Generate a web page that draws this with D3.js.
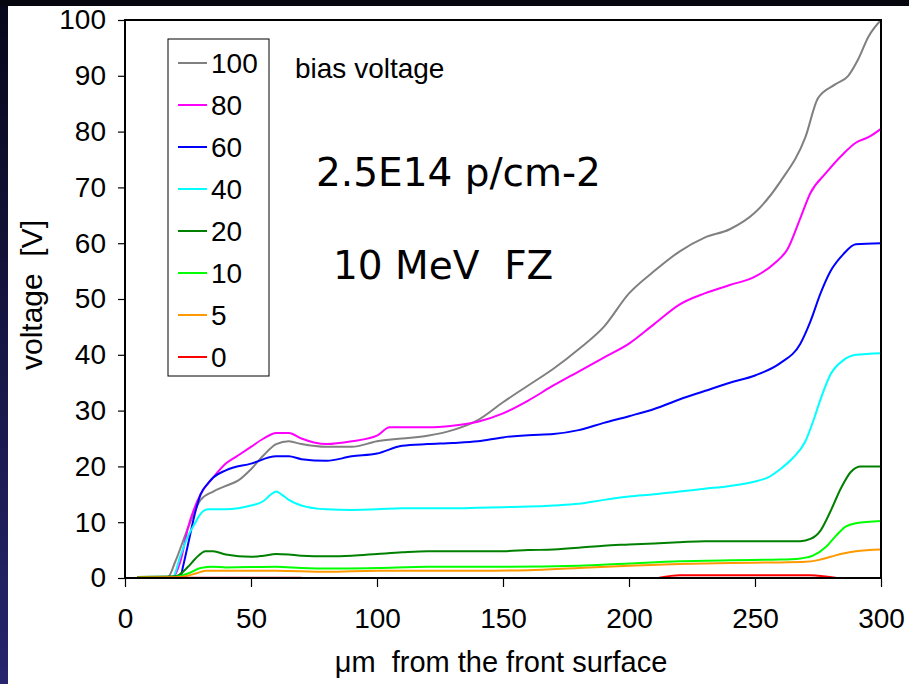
<!DOCTYPE html>
<html>
<head>
  <meta charset="utf-8">
  <script src="https://d3js.org/d3.v7.min.js"></script>
  <style>
    body { margin: 0; background: #fff; }
    svg text { font-family: Arial, "Liberation Sans", sans-serif; fill: #000; white-space: pre; }
    .note { font-family: "Comic Sans MS", "DejaVu Sans", sans-serif; }
  </style>
</head>
<body>
  <script type="text/javascript">
    // Potential profiles (depth in um, voltage in V) for each bias voltage
    var bias100 = [[5,0.2],[17,0.2],[20,3],[25,9],[30,14],[35,15.5],[40,16.5],[45,17.5],[50,19.5],[55,22],[60,24],[65,24.5],
                   [70,24],[80,23.5],[90,23.5],[100,24.5],[110,25],[120,25.5],[130,26.5],[140,28.3],[150,31.5],[160,34.5],
                   [170,37.5],[180,41],[190,45],[200,51],[210,55],[220,58.5],[230,61],[240,62.5],[250,65.5],[260,71],
                   [270,79],[275,86],[282,88.5],[287,90],[291,93],[295,97],[300,100]];
    var bias80 = [[5,0.2],[19,0.2],[22,3],[25,9],[30,15],[35,18],[40,20.5],[45,22],[50,23.5],[55,25],[60,26],[65,26],
                  [70,25],[75,24.3],[80,24],[90,24.5],[100,25.5],[105,27],[110,27],[120,27],[130,27.3],[140,28],[150,29.5],
                  [160,31.8],[170,34.5],[180,37],[190,39.5],[200,42],[210,45.5],[220,49],[230,51],[240,52.5],[250,54],
                  [258,56.5],[263,59],[268,64.5],[272,69],[278,72.5],[285,76],[290,78],[295,79],[300,80.5]];
    var bias60 = [[5,0.2],[22,0.2],[23,2],[25,6],[28,12],[30,15],[33,17],[35,18],[40,19.3],[50,20.5],[60,21.8],[65,21.8],
                  [70,21.3],[80,21],[90,21.8],[100,22.3],[110,23.7],[120,24],[130,24.2],[140,24.5],[150,25.2],[160,25.6],
                  [170,25.8],[180,26.5],[190,27.8],[200,29],[210,30.3],[220,32],[230,33.5],[240,35],[250,36.3],[260,38.5],
                  [268,42],[272,46],[276,51],[280,55],[285,58],[290,59.8],[300,60]];
    var bias40 = [[5,0.2],[19,0.2],[22,4],[25,7.5],[28,10],[30,11.5],[33,12.3],[40,12.3],[45,12.5],[50,13],[55,13.8],
                  [58,15],[60,15.5],[62,15],[65,14],[70,13],[80,12.3],[90,12.2],[100,12.3],[110,12.5],[120,12.5],[130,12.5],
                  [140,12.6],[150,12.7],[160,12.8],[170,13],[180,13.3],[190,14],[200,14.6],[210,15],[220,15.5],[230,16],
                  [240,16.5],[250,17.3],[255,18],[260,19.5],[265,21.5],[270,24.5],[273,28],[276,32],[280,36.5],[285,39],
                  [290,40],[300,40.3]];
    var bias20 = [[5,0.2],[20,0.3],[25,2],[28,3.5],[32,4.8],[35,4.8],[40,4.2],[50,3.8],[55,4],[60,4.3],[65,4.2],[70,4],
                  [80,3.9],[90,4],[100,4.3],[110,4.6],[120,4.8],[130,4.8],[140,4.8],[150,4.8],[160,5],[170,5.1],[180,5.4],
                  [190,5.8],[200,6],[210,6.2],[220,6.4],[230,6.6],[240,6.6],[250,6.6],[260,6.6],[268,6.6],[272,7],
                  [276,8.5],[280,12],[284,16],[288,19],[292,20],[300,20]];
    var bias10 = [[5,0.2],[20,0.2],[25,0.8],[30,1.8],[35,2],[40,1.9],[60,2],[70,1.8],[80,1.7],[100,1.8],[120,2],[150,2],
                  [180,2.2],[200,2.6],[220,3],[240,3.2],[260,3.3],[268,3.5],[273,4],[278,5.5],[282,7.5],[286,9.2],
                  [290,9.8],[300,10.2]];
    var bias5 = [[5,0.1],[22,0.2],[28,0.8],[32,1.3],[40,1.3],[60,1.3],[80,1.1],[100,1.3],[140,1.3],[160,1.4],[180,1.8],
                 [200,2.2],[220,2.5],[240,2.7],[260,2.8],[270,2.9],[275,3.2],[280,3.8],[285,4.4],[290,4.8],[300,5.1]];
    var bias0a = [[5,0.05],[70,0.05]];
    var bias0b = [[212,0.05],[220,0.5],[272,0.5],[282,0.05]];

    var legendLabels = ["100", "80", "60", "40", "20", "10", "5", "0"];
    var seriesColors = ["#808080", "#ff00ff", "#0000ff", "#00ffff", "#008000", "#00ff00", "#ff9900", "#ff0000"];
    var seriesData = [[bias100], [bias80], [bias60], [bias40], [bias20], [bias10], [bias5], [bias0a, bias0b]];

    var xTicks = [0, 50, 100, 150, 200, 250, 300];
    var yTicks = [0, 10, 20, 30, 40, 50, 60, 70, 80, 90, 100];

    var W = 909, H = 684;
    var plotLeft = 125, plotRight = 881, plotTop = 20, plotBottom = 578;

    var svg = d3.select("body").append("svg")
      .attr("width", W)
      .attr("height", H);

    // slide background strips
    var grad = svg.append("defs").append("linearGradient")
      .attr("id", "slideEdge")
      .attr("x1", 0).attr("y1", 0).attr("x2", 0).attr("y2", 1);
    grad.append("stop").attr("offset", "0%").attr("stop-color", "#07071a");
    grad.append("stop").attr("offset", "100%").attr("stop-color", "#26256e");

    svg.append("rect").attr("x", 0).attr("y", 0).attr("width", W).attr("height", H).attr("fill", "#fff");
    svg.append("rect").attr("x", 0).attr("y", 0).attr("width", 8).attr("height", H).attr("fill", "url(#slideEdge)");
    svg.append("rect").attr("x", 0).attr("y", 0).attr("width", W).attr("height", 6).attr("fill", "#06060f");

    var x = d3.scaleLinear().domain([0, 300]).range([plotLeft, plotRight]);
    var y = d3.scaleLinear().domain([0, 100]).range([plotBottom, plotTop]);

    var line = d3.line()
      .x(function(d) { return x(d[0]); })
      .y(function(d) { return y(d[1]); })
      .curve(d3.curveMonotoneX);

    // curves, lowest bias drawn last so it sits on top
    for (var i = 0; i < seriesData.length; ++i) {
      seriesData[i].forEach(function(seg) {
        svg.append("path")
          .datum(seg)
          .attr("d", line)
          .attr("fill", "none")
          .attr("stroke", seriesColors[i])
          .attr("stroke-width", 2);
      });
    }

    // axes
    var xAxis = svg.append("g")
      .attr("transform", "translate(0," + plotBottom + ")")
      .call(d3.axisBottom(x).tickValues(xTicks).tickSize(9).tickPadding(21));
    var yAxis = svg.append("g")
      .attr("transform", "translate(" + plotLeft + ",0)")
      .call(d3.axisLeft(y).tickValues(yTicks).tickSize(7).tickPadding(12));

    [xAxis, yAxis].forEach(function(g) {
      g.select(".domain").remove();
      g.selectAll("line").attr("stroke", "#000").attr("stroke-width", 1.2);
      g.selectAll("text").style("font-size", "28px").attr("fill", "#000");
    });

    // frame
    svg.append("rect")
      .attr("x", plotLeft).attr("y", plotTop)
      .attr("width", plotRight - plotLeft).attr("height", plotBottom - plotTop)
      .attr("fill", "none")
      .attr("stroke", "#000")
      .attr("stroke-width", 2);

    // axis titles
    svg.append("text")
      .attr("x", 501)
      .attr("y", 672)
      .attr("text-anchor", "middle")
      .style("font-size", "29px")
      .text("\u03bcm  from the front surface");

    svg.append("text")
      .attr("transform", "translate(42,295) rotate(-90)")
      .attr("text-anchor", "middle")
      .style("font-size", "30px")
      .text("voltage  [V]");

    // legend
    var legend = svg.append("g");
    legend.append("rect")
      .attr("x", 168).attr("y", 39)
      .attr("width", 101).attr("height", 337)
      .attr("fill", "#fff")
      .attr("stroke", "#000")
      .attr("stroke-width", 1);

    legendLabels.forEach(function(lab, i) {
      var ly = 63 + i * 42;
      legend.append("line")
        .attr("x1", 178).attr("x2", 207)
        .attr("y1", ly).attr("y2", ly)
        .attr("stroke", seriesColors[i])
        .attr("stroke-width", 2);
      legend.append("text")
        .attr("x", 211).attr("y", ly + 10)
        .style("font-size", "28px")
        .text(lab);
    });

    svg.append("text")
      .attr("x", 295).attr("y", 78)
      .style("font-size", "28px")
      .text("bias voltage");

    // sample notes
    svg.append("text")
      .attr("class", "note")
      .attr("x", 316).attr("y", 186)
      .style("font-size", "39px")
      .text("2.5E14 p/cm-2");
    svg.append("text")
      .attr("class", "note")
      .attr("x", 333).attr("y", 279)
      .style("font-size", "39px")
      .text("10 MeV  FZ");
  </script>
</body>
</html>
